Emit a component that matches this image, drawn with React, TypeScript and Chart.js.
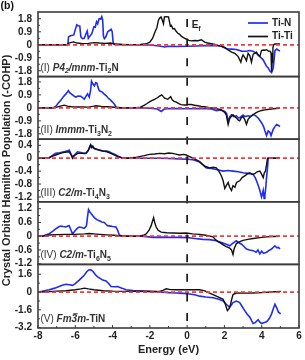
import React, { useEffect, useRef } from "react";
import { Chart, registerables } from "chart.js";

Chart.register(...registerables);

const FONT = "'Liberation Sans', Arial, Helvetica, sans-serif";

type Pt = [number, number];
type Seg = [string, string];

// ---------- axis / tick data ----------
const energyTicks = [-8, -6, -4, -2, 0, 2, 4, 6];
const seriesLabels = ["Ti-N", "Ti-Ti"];
const seriesColors = ["#1f2cf2", "#111111"];
const zeroColor = "#ff3636";

const yTicks1 = [-1.8, -0.9, 0, 0.9, 1.8];
const yTicks2 = [-1.8, -0.9, 0, 0.9, 1.8];
const yTicks3 = [-1.2, -0.8, -0.4, 0, 0.4];
const yTicks4 = [-1.2, -0.6, 0, 0.6, 1.2];
const yTicks5 = [-3.2, -1.6, 0, 1.6];

const yRange1 = [-2.2, 2.27];
const yRange2 = [-2.17, 2.17];
const yRange3 = [-1.35, 0.59];
const yRange4 = [-1.23, 1.5];
const yRange5 = [-3.23, 2.48];

const yTitle = "Crystal Orbital Hamilton Population (-COHP)";
const xTitle = "Energy (eV)";

// ---------- panel labels (text, style: b=bold i=italic s=subscript o=overline) ----------
const label1: Seg[] = [["(I) ", ""], ["P4", "bi"], ["2", "bis"], ["/mnm", "bi"], ["-Ti", "b"], ["2", "bs"], ["N", "b"]];
const label2: Seg[] = [["(II) ", ""], ["Immm", "bi"], ["-Ti", "b"], ["3", "bs"], ["N", "b"], ["2", "bs"]];
const label3: Seg[] = [["(III) ", ""], ["C2/m", "bi"], ["-Ti", "b"], ["4", "bs"], ["N", "b"], ["3", "bs"]];
const label4: Seg[] = [["(IV) ", ""], ["C2/m", "bi"], ["-Ti", "b"], ["6", "bs"], ["N", "b"], ["5", "bs"]];
const label5: Seg[] = [["(V) ", ""], ["Fm", "bi"], ["3", "bio"], ["m", "bi"], ["-TiN", "b"]];

// ---------- series data: [energy (eV), -COHP] ----------
const p1TiN: Pt[] = [
  [-8, 0], [-6.4, 0], [-6.36, 0.55], [-6.25, 0.62], [-6.08, 0.68], [-6.0, 1.05], [-5.92, 1.38], [-5.85, 1.32],
  [-5.76, 1.3], [-5.7, 0.55], [-5.62, 0.42], [-5.52, 0.45], [-5.43, 0.75], [-5.36, 0.95], [-5.3, 0.45], [-5.22, 0.6],
  [-5.12, 0.75], [-5.0, 1.25], [-4.93, 1.22], [-4.86, 1.6], [-4.8, 1.45], [-4.72, 1.8], [-4.64, 1.78], [-4.58, 1.95],
  [-4.53, 1.7], [-4.49, 0.6], [-4.44, 0.42], [-4.36, 0.55], [-4.26, 0.9], [-4.16, 1.0], [-4.08, 1.08], [-4.02, 0.9],
  [-3.97, 0.15], [-3.9, 0.03], [-3.0, 0], [-2.0, -0.02], [-1.5, -0.08], [-1.2, -0.15], [-1.0, -0.1], [-0.5, -0.12],
  [0, -0.1], [0.5, -0.08], [1.0, -0.06], [1.5, -0.04], [1.84, -0.1], [2.1, -0.27], [2.38, -0.3], [2.64, -0.33],
  [2.92, -0.44], [3.18, -0.45], [3.36, -0.4], [3.54, -0.45], [3.72, -0.6], [3.9, -0.82], [4.08, -1.04], [4.17, -1.27],
  [4.26, -1.49], [4.35, -1.6], [4.44, -1.82], [4.53, -1.93], [4.62, -1.6], [4.71, -0.4], [4.8, -0.3], [4.9, -0.38], [4.98, -0.44],
];
const p1TiTi: Pt[] = [
  [-8, 0], [-6.45, 0], [-6.35, 0.12], [-6.1, 0.2], [-5.9, 0.12], [-5.6, 0.08], [-5.3, 0.1], [-5.0, 0.15], [-4.7, 0.12],
  [-4.4, 0.1], [-4.1, 0.12], [-3.9, 0.05], [-3.5, 0.02], [-3.0, 0.01], [-2.5, 0.02], [-2.3, 0.05], [-2.15, 0.1],
  [-2.0, 0.18], [-1.85, 0.45], [-1.72, 0.9], [-1.62, 1.2], [-1.54, 1.7], [-1.47, 1.85], [-1.4, 1.93], [-1.33, 1.7],
  [-1.27, 1.45], [-1.22, 1.93], [-1.1, 1.95], [-1.0, 1.93], [-0.95, 1.6], [-0.9, 1.3], [-0.85, 1.35], [-0.76, 1.1],
  [-0.68, 1.12], [-0.6, 0.95], [-0.5, 0.8], [-0.4, 0.72], [-0.32, 0.6], [-0.2, 0.5], [-0.05, 0.4], [0.1, 0.3],
  [0.22, 0.27], [0.4, 0.3], [0.58, 0.28], [0.76, 0.35], [0.94, 0.18], [1.1, 0.12], [1.3, 0.07], [1.5, 0.02],
  [1.65, -0.04], [1.84, -0.1], [2.02, -0.18], [2.2, -0.35], [2.38, -0.51], [2.56, -0.6], [2.73, -0.8], [2.88, -1.2],
  [2.95, -0.85], [3.0, -0.7], [3.1, -0.9], [3.18, -1.1], [3.27, -0.6], [3.36, -0.75], [3.45, -1.2], [3.54, -0.65],
  [3.63, -0.6], [3.72, -0.51], [3.8, -0.7], [3.9, -0.8], [3.99, -0.4], [4.08, -0.36], [4.17, -0.38], [4.26, -0.34],
  [4.35, -0.44], [4.44, -0.45], [4.5, -0.55], [4.53, -1.85], [4.56, -1.2], [4.6, -0.2], [4.65, 0.02], [4.71, 0.05],
  [4.85, 0.05], [4.98, 0.05],
];
const p2TiN: Pt[] = [
  [-8, 0], [-7.2, 0], [-7.05, 0.1], [-6.9, 0.35], [-6.78, 0.52], [-6.65, 0.75], [-6.5, 0.97], [-6.42, 1.1], [-6.37, 1.19],
  [-6.3, 1.05], [-6.15, 0.9], [-6.05, 0.8], [-5.97, 0.75], [-5.85, 0.82], [-5.7, 0.8], [-5.6, 0.7], [-5.52, 0.6],
  [-5.43, 0.8], [-5.34, 0.97], [-5.25, 0.75], [-5.18, 1.2], [-5.13, 1.85], [-5.05, 1.65], [-4.98, 1.52], [-4.9, 1.75],
  [-4.84, 1.7], [-4.76, 1.35], [-4.71, 1.19], [-4.6, 1.12], [-4.54, 1.07], [-4.45, 0.95], [-4.35, 0.85], [-4.25, 0.7],
  [-4.18, 0.63], [-4.08, 0.5], [-4.0, 0.4], [-3.9, 0.25], [-3.82, 0.08], [-3.76, 0], [-3.0, 0], [-2.3, 0],
  [-2.0, -0.03], [-1.6, -0.08], [-1.39, -0.25], [-1.25, -0.1], [-1.0, -0.05], [-0.5, -0.05], [0, -0.06], [0.5, -0.05],
  [1.0, -0.05], [1.3, -0.08], [1.57, -0.19], [1.8, -0.15], [2.02, -0.25], [2.12, -0.4], [2.2, -0.92], [2.3, -0.6],
  [2.38, -0.48], [2.5, -0.6], [2.64, -0.55], [2.75, -0.7], [2.82, -0.68], [3.0, -0.5], [3.1, -0.6], [3.27, -0.55],
  [3.4, -0.6], [3.54, -0.45], [3.68, -0.55], [3.81, -0.7], [3.99, -1.03], [4.1, -1.3], [4.17, -1.59], [4.26, -1.92],
  [4.35, -1.6], [4.44, -1.7], [4.5, -1.92], [4.62, -1.48], [4.71, -1.3], [4.8, -1.15], [4.9, -1.22], [4.98, -1.3],
];
const p2TiTi: Pt[] = [
  [-8, 0], [-7.2, 0], [-7.0, 0.05], [-6.8, 0.12], [-6.6, 0.19], [-6.42, 0.12], [-6.2, 0.08], [-6.0, 0.06], [-5.6, 0.06],
  [-5.3, 0.05], [-5.0, 0.12], [-4.89, 0.15], [-4.6, 0.1], [-4.3, 0.08], [-3.9, 0.04], [-3.5, 0.01], [-2.83, 0],
  [-2.5, 0.05], [-2.29, 0.19], [-2.15, 0.3], [-2.02, 0.41], [-1.9, 0.5], [-1.75, 0.59], [-1.6, 0.7], [-1.48, 0.81],
  [-1.36, 0.9], [-1.28, 0.78], [-1.21, 0.68], [-1.1, 0.62], [-1.04, 0.6], [-0.95, 0.7], [-0.88, 0.78], [-0.8, 0.55],
  [-0.7, 0.45], [-0.58, 0.4], [-0.45, 0.3], [-0.32, 0.22], [-0.15, 0.2], [-0.05, 0.2], [0.1, 0.24], [0.22, 0.23],
  [0.4, 0.18], [0.58, 0.15], [0.76, 0.1], [0.94, 0.08], [1.2, 0.02], [1.48, -0.03], [1.84, -0.14], [2.0, -0.3],
  [2.1, -0.48], [2.2, -1.15], [2.28, -0.75], [2.36, -0.6], [2.46, -0.48], [2.55, -0.6], [2.64, -0.7], [2.75, -0.85],
  [2.82, -0.9], [2.9, -0.7], [3.0, -0.6], [3.1, -0.85], [3.18, -1.14], [3.27, -0.8], [3.36, -0.65], [3.45, -0.55],
  [3.54, -0.48], [3.68, -0.35], [3.81, -0.26], [4.0, -0.18], [4.17, -0.14], [4.5, -0.08], [4.9, -0.03], [4.98, -0.03],
];
const p3TiN: Pt[] = [
  [-8, 0], [-7.45, 0], [-7.3, 0.05], [-7.15, 0.12], [-7.05, 0.15], [-6.85, 0.17], [-6.6, 0.2], [-6.45, 0.22],
  [-6.33, 0.25], [-6.22, 0.12], [-6.15, 0.05], [-6.05, 0.1], [-5.88, 0.2], [-5.7, 0.18], [-5.55, 0.15], [-5.43, 0.15],
  [-5.32, 0.22], [-5.25, 0.3], [-5.16, 0.4], [-5.1, 0.35], [-4.98, 0.3], [-4.85, 0.27], [-4.71, 0.25], [-4.5, 0.22],
  [-4.3, 0.22], [-4.18, 0.2], [-4.0, 0.15], [-3.82, 0.1], [-3.65, 0.05], [-3.46, 0], [-2.5, 0], [-1.5, 0],
  [-1.0, -0.01], [-0.41, -0.02], [0, -0.03], [0.31, -0.05], [0.6, -0.1], [0.85, -0.2], [1.03, -0.3], [1.3, -0.32],
  [1.57, -0.35], [1.93, -0.4], [2.2, -0.38], [2.46, -0.4], [2.75, -0.42], [3.0, -0.45], [3.3, -0.47], [3.54, -0.5],
  [3.65, -0.6], [3.72, -0.7], [3.82, -0.85], [3.9, -1.0], [3.99, -1.2], [4.04, -1.1], [4.08, -1.0], [4.13, -1.25],
  [4.17, -1.15], [4.22, -0.9], [4.26, -0.6], [4.31, -0.3], [4.35, 0], [4.98, 0],
];
const p3TiTi: Pt[] = [
  [-8, 0], [-7.45, 0], [-7.3, 0.05], [-7.05, 0.1], [-6.8, 0.15], [-6.6, 0.18], [-6.33, 0.2], [-6.22, 0.1],
  [-6.15, 0.0], [-6.05, 0.08], [-5.88, 0.15], [-5.6, 0.15], [-5.43, 0.15], [-5.3, 0.25], [-5.22, 0.38], [-5.18, 0.42],
  [-5.13, 0.33], [-5.06, 0.38], [-4.98, 0.3], [-4.85, 0.28], [-4.71, 0.25], [-4.5, 0.22], [-4.3, 0.2], [-4.1, 0.15],
  [-3.92, 0.1], [-3.7, 0.04], [-3.5, 0.01], [-3.28, 0], [-2.8, 0.02], [-2.56, 0.05], [-2.3, 0.08], [-2.02, 0.12],
  [-1.75, 0.13], [-1.48, 0.15], [-1.2, 0.14], [-1.0, 0.16], [-0.77, 0.15], [-0.55, 0.12], [-0.41, 0.1], [-0.2, 0.12],
  [-0.05, 0.1], [0.1, 0.06], [0.31, 0], [0.5, -0.05], [0.67, -0.1], [0.8, -0.18], [0.94, -0.25], [1.1, -0.28],
  [1.21, -0.3], [1.4, -0.28], [1.57, -0.3], [1.7, -0.4], [1.84, -0.55], [1.93, -0.7], [2.02, -0.94], [2.1, -0.85],
  [2.2, -0.75], [2.28, -0.9], [2.38, -1.0], [2.46, -0.85], [2.56, -0.9], [2.65, -0.75], [2.82, -0.7], [2.95, -0.6],
  [3.09, -0.55], [3.2, -0.5], [3.36, -0.45], [3.5, -0.5], [3.63, -0.48], [3.75, -0.42], [3.9, -0.4], [4.0, -0.5],
  [4.08, -0.6], [4.14, -0.45], [4.2, -0.4], [4.26, -0.2], [4.31, 0], [4.98, 0],
];
const p4TiN: Pt[] = [
  [-8, 0], [-7.77, 0], [-7.6, 0.05], [-7.4, 0.11], [-7.2, 0.22], [-7.05, 0.32], [-6.9, 0.4], [-6.78, 0.44],
  [-6.65, 0.42], [-6.5, 0.4], [-6.4, 0.44], [-6.33, 0.46], [-6.25, 0.3], [-6.15, 0.1], [-6.0, 0.25], [-5.88, 0.35],
  [-5.79, 0.4], [-5.65, 0.38], [-5.52, 0.34], [-5.45, 0.4], [-5.4, 0.46], [-5.35, 0.8], [-5.29, 1.16], [-5.22, 1.05],
  [-5.16, 1.0], [-5.07, 0.9], [-4.98, 0.81], [-4.85, 0.72], [-4.71, 0.67], [-4.58, 0.62], [-4.45, 0.6], [-4.35, 0.52],
  [-4.27, 0.46], [-4.1, 0.44], [-4.0, 0.42], [-3.82, 0.4], [-3.72, 0.25], [-3.64, 0.05], [-3.46, 0], [-2.5, 0],
  [-2.2, -0.02], [-1.8, -0.05], [-1.5, -0.04], [-1.0, -0.05], [-0.5, -0.05], [0, -0.06], [0.4, -0.1], [0.85, -0.14],
  [1.2, -0.15], [1.57, -0.2], [1.84, -0.28], [2.1, -0.35], [2.28, -0.42], [2.46, -0.3], [2.64, -0.2], [2.8, -0.3],
  [2.92, -0.35], [3.05, -0.45], [3.18, -0.56], [3.35, -0.6], [3.54, -0.63], [3.7, -0.7], [3.8, -0.6], [3.9, -0.77],
  [4.0, -0.65], [4.1, -0.75], [4.26, -0.7], [4.4, -0.62], [4.53, -0.56], [4.62, -0.48], [4.71, -0.42], [4.8, -0.5],
  [4.9, -0.49], [4.98, -0.56],
];
const p4TiTi: Pt[] = [
  [-8, 0], [-7.77, 0], [-7.4, 0.05], [-7.0, 0.07], [-6.5, 0.08], [-6.0, 0.08], [-5.5, 0.1], [-5.25, 0.12], [-5.0, 0.1],
  [-4.7, 0.08], [-4.3, 0.06], [-3.9, 0.04], [-3.64, 0.02], [-3.0, 0], [-2.56, 0], [-2.35, 0.04], [-2.2, 0.1],
  [-2.05, 0.25], [-1.93, 0.46], [-1.86, 0.65], [-1.8, 0.81], [-1.74, 0.6], [-1.66, 0.4], [-1.55, 0.25], [-1.39, 0.18],
  [-1.1, 0.15], [-0.77, 0.14], [-0.4, 0.13], [-0.05, 0.14], [0.3, 0.1], [0.67, 0.08], [1.0, 0.04], [1.39, -0.03],
  [1.52, -0.15], [1.66, -0.24], [1.8, -0.3], [1.93, -0.38], [2.1, -0.45], [2.28, -0.52], [2.38, -0.6], [2.46, -0.8],
  [2.52, -0.55], [2.64, -0.32], [2.8, -0.25], [3.0, -0.18], [3.25, -0.14], [3.54, -0.1], [3.9, -0.06], [4.26, -0.03],
  [4.6, -0.01], [4.98, 0],
];
const p5TiN: Pt[] = [
  [-8, 0], [-7.7, 0.1], [-7.4, 0.2], [-7.1, 0.35], [-6.87, 0.49], [-6.7, 0.6], [-6.5, 0.69], [-6.3, 0.66], [-6.15, 0.6],
  [-6.0, 0.75], [-5.79, 1.07], [-5.65, 1.3], [-5.52, 1.5], [-5.4, 1.8], [-5.28, 1.98], [-5.16, 2.0], [-5.05, 1.85],
  [-4.92, 1.55], [-4.8, 1.36], [-4.65, 1.2], [-4.53, 1.07], [-4.35, 1.0], [-4.2, 0.75], [-4.08, 0.49], [-3.9, 0.47],
  [-3.73, 0.49], [-3.5, 0.35], [-3.28, 0.2], [-2.9, 0.14], [-2.56, 0.12], [-2.0, 0.06], [-1.48, 0.0], [-1.0, -0.05],
  [-0.58, -0.09], [-0.2, -0.12], [0.13, -0.17], [0.4, -0.25], [0.67, -0.37], [1.0, -0.45], [1.39, -0.52], [1.7, -0.65],
  [1.93, -0.81], [2.1, -1.1], [2.28, -1.38], [2.38, -1.15], [2.46, -0.95], [2.64, -0.81], [2.82, -0.95], [2.95, -1.3],
  [3.09, -1.67], [3.22, -2.0], [3.36, -2.25], [3.45, -2.55], [3.54, -2.83], [3.65, -2.75], [3.81, -2.48], [3.9, -2.7],
  [3.99, -2.83], [4.1, -2.75], [4.26, -2.68], [4.4, -2.4], [4.53, -1.96], [4.62, -1.5], [4.71, -1.1], [4.8, -1.4],
  [4.9, -1.81], [5.02, -1.96],
];
const p5TiTi: Pt[] = [
  [-8, 0], [-7.5, 0.03], [-7.0, 0.08], [-6.5, 0.12], [-6.0, 0.2], [-5.7, 0.28], [-5.5, 0.35], [-5.3, 0.28], [-5.0, 0.2],
  [-4.5, 0.12], [-4.0, 0.08], [-3.0, 0.06], [-2.0, 0.05], [-1.48, 0.06], [-1.3, 0.15], [-1.12, 0.29], [-0.9, 0.22],
  [-0.58, 0.2], [-0.05, 0.2], [0.3, 0.22], [0.67, 0.2], [0.95, 0.1], [1.21, -0.09], [1.57, -0.37], [1.93, -0.66],
  [2.05, -1.1], [2.16, -1.67], [2.25, -1.5], [2.33, -1.1], [2.4, -0.6], [2.46, -0.23], [2.64, -0.09], [3.0, -0.1],
  [3.5, -0.09], [4.0, -0.05], [4.5, 0.0], [5.02, 0.06],
];

const panels = [
  { id: "p1", tiN: p1TiN, tiTi: p1TiTi, ticks: yTicks1, range: yRange1, label: label1, size: 67 },
  { id: "p2", tiN: p2TiN, tiTi: p2TiTi, ticks: yTicks2, range: yRange2, label: label2, size: 65 },
  { id: "p3", tiN: p3TiN, tiTi: p3TiTi, ticks: yTicks3, range: yRange3, label: label3, size: 65 },
  { id: "p4", tiN: p4TiN, tiTi: p4TiTi, ticks: yTicks4, range: yRange4, label: label4, size: 65 },
  { id: "p5", tiN: p5TiN, tiTi: p5TiTi, ticks: yTicks5, range: yRange5, label: label5, size: 66 },
];

function drawRich(ctx: CanvasRenderingContext2D, x: number, y: number, segs: Seg[], size: number) {
  let cx = x;
  ctx.textBaseline = "alphabetic";
  ctx.textAlign = "left";
  for (const [t, f] of segs) {
    const bold = f.includes("b");
    const ital = f.includes("i");
    const sub = f.includes("s");
    const over = f.includes("o");
    const fs = sub ? size * 0.7 : size;
    ctx.font = `${ital ? "italic " : ""}${bold ? "bold " : ""}${fs}px ${FONT}`;
    ctx.fillText(t, cx, y + (sub ? size * 0.28 : 0));
    const w = ctx.measureText(t).width;
    if (over) {
      ctx.save();
      ctx.lineWidth = 1;
      ctx.strokeStyle = ctx.fillStyle as string;
      ctx.beginPath();
      ctx.moveTo(cx + 1.5, y - size * 0.82);
      ctx.lineTo(cx + w + 0.5, y - size * 0.82);
      ctx.stroke();
      ctx.restore();
    }
    cx += w;
  }
}

function seg(ctx: CanvasRenderingContext2D, x1: number, y1: number, x2: number, y2: number) {
  ctx.beginPath();
  ctx.moveTo(x1, y1);
  ctx.lineTo(x2, y2);
  ctx.stroke();
}

const overlayPlugin = {
  id: "overlay",
  afterDraw(chart: any) {
    const { ctx, chartArea: a, scales } = chart;
    const xs = scales.x;
    ctx.save();

    // Fermi level dashed line
    const x0 = xs.getPixelForValue(0);
    ctx.strokeStyle = "#1a1a1a";
    ctx.lineWidth = 1.7;
    ctx.setLineDash([8, 11.6]);
    ctx.lineDashOffset = 12.6;
    seg(ctx, x0, a.top, x0, a.bottom);
    ctx.setLineDash([]);

    // panel frames, ticks, labels
    panels.forEach((p) => {
      const s = scales[p.id];
      ctx.strokeStyle = "#3c3c3c";
      ctx.lineWidth = 1.6;
      ctx.strokeRect(a.left, s.top, a.right - a.left, s.bottom - s.top);
      ctx.lineWidth = 1;
      p.ticks.forEach((v, k) => {
        const y = s.getPixelForValue(v);
        seg(ctx, a.left, y, a.left + 3, y);
        if (k < p.ticks.length - 1) {
          const ym = s.getPixelForValue((v + p.ticks[k + 1]) / 2);
          seg(ctx, a.left, ym, a.left + 2, ym);
        }
      });
      ctx.fillStyle = "#333";
      drawRich(ctx, a.left + 2.5, s.bottom - 6, p.label, 10);
    });

    // x ticks (inward)
    ctx.strokeStyle = "#3c3c3c";
    ctx.lineWidth = 1;
    energyTicks.forEach((v, k) => {
      const x = xs.getPixelForValue(v);
      seg(ctx, x, a.bottom, x, a.bottom - 3);
      if (k < energyTicks.length - 1) {
        const xm = xs.getPixelForValue((v + energyTicks[k + 1]) / 2);
        seg(ctx, xm, a.bottom, xm, a.bottom - 2);
      }
    });

    // E_f label
    ctx.fillStyle = "#222";
    drawRich(ctx, x0 + 4.5, a.top + 16, [["E", "b"], ["f", "bs"]], 10);

    // legend (inside first panel)
    const ds = chart.data.datasets;
    const legendItems = [ds.find((d: any) => d.label === seriesLabels[0]), ds.find((d: any) => d.label === seriesLabels[1])];
    legendItems.forEach((d: any, k: number) => {
      const y = a.top + 11 + k * 13.5;
      ctx.strokeStyle = d.borderColor;
      ctx.lineWidth = 1.7;
      seg(ctx, a.right - 51, y, a.right - 31, y);
      ctx.fillStyle = "#222";
      ctx.font = `bold 10px ${FONT}`;
      ctx.textBaseline = "middle";
      ctx.textAlign = "left";
      ctx.fillText(d.label, a.right - 27, y);
    });

    // panel tag
    ctx.fillStyle = "#111";
    ctx.font = `bold 10.5px ${FONT}`;
    ctx.textBaseline = "top";
    ctx.textAlign = "left";
    ctx.fillText("(b)", 0.5, 0.5);

    ctx.restore();
  },
};

export default function App() {
  const ref = useRef<HTMLCanvasElement | null>(null);

  useEffect(() => {
    document.body.style.margin = "0";
    if (!ref.current) return;
    Chart.defaults.font.family = FONT;

    const datasets: any[] = [];
    panels.forEach((p) => {
      datasets.push({
        label: "zero",
        data: [
          { x: energyTicks[0], y: 0 },
          { x: energyTicks[energyTicks.length - 1], y: 0 },
        ],
        yAxisID: p.id,
        borderColor: zeroColor,
        borderWidth: 1.8,
        borderDash: [4, 3],
        pointRadius: 0,
        order: 0,
      });
      datasets.push({
        label: seriesLabels[1],
        data: p.tiTi.map(([x, y]) => ({ x, y })),
        yAxisID: p.id,
        borderColor: seriesColors[1],
        borderWidth: 1.4,
        pointRadius: 0,
        order: 1,
      });
      datasets.push({
        label: seriesLabels[0],
        data: p.tiN.map(([x, y]) => ({ x, y })),
        yAxisID: p.id,
        borderColor: seriesColors[0],
        borderWidth: 1.6,
        pointRadius: 0,
        order: 2,
      });
    });

    const scales: any = {
      x: {
        type: "linear",
        position: "bottom",
        min: energyTicks[0],
        max: energyTicks[energyTicks.length - 1],
        afterBuildTicks: (s: any) => {
          s.ticks = energyTicks.map((v) => ({ value: v }));
        },
        afterFit: (s: any) => {
          s.height = 32;
        },
        ticks: {
          autoSkip: false,
          maxRotation: 0,
          padding: 2,
          color: "#222",
          font: { size: 10, weight: "bold" },
          callback: (v: any) => String(v),
        },
        grid: { display: false, drawTicks: false },
        border: { display: false },
        title: {
          display: true,
          text: xTitle,
          color: "#222",
          font: { size: 11, weight: "bold" },
          padding: { top: 0, bottom: 3 },
        },
      },
    };
    panels.forEach((p, i) => {
      scales[p.id] = {
        type: "linear",
        position: "left",
        stack: "panels",
        stackWeight: p.size,
        weight: panels.length - i,
        min: p.range[0],
        max: p.range[1],
        afterBuildTicks: (s: any) => {
          s.ticks = p.ticks.map((v) => ({ value: v }));
        },
        afterFit: (s: any) => {
          s.width = 38;
        },
        ticks: {
          autoSkip: false,
          padding: 6,
          color: "#222",
          font: { size: 10, weight: "bold" },
          callback: (v: any) => String(v),
        },
        grid: { display: false, drawTicks: false },
        border: { display: false },
        title: {
          display: i === 2,
          text: yTitle,
          color: "#222",
          font: { size: 11, weight: "bold" },
          padding: { top: 0.5, bottom: 0 },
        },
      };
    });

    const chart = new Chart(ref.current, {
      type: "line",
      data: { datasets },
      options: {
        animation: false,
        responsive: false,
        maintainAspectRatio: false,
        layout: { padding: { top: 1, right: 6, left: 0, bottom: 0 } },
        plugins: {
          legend: { display: false },
          tooltip: { enabled: false },
          title: { display: false },
        },
        scales,
      },
      plugins: [overlayPlugin],
    });
    return () => chart.destroy();
  }, []);

  return (
    <div style={{ width: 305, height: 360 }}>
      <canvas ref={ref} width={305} height={360} style={{ display: "block" }} />
    </div>
  );
}
